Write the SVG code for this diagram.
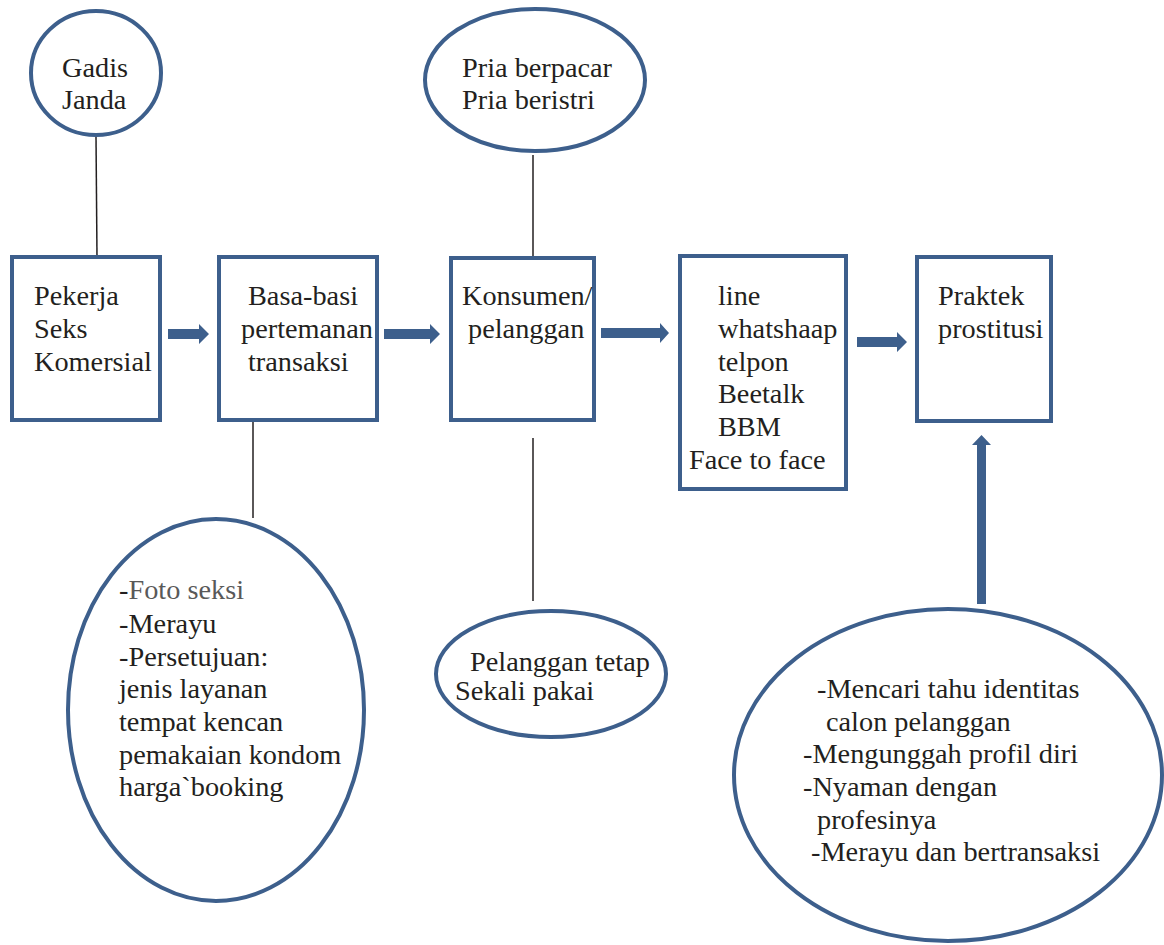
<svg xmlns="http://www.w3.org/2000/svg" width="1164" height="945" viewBox="0 0 1164 945">
<style>
.shape{fill:#fff;stroke:#3d5f8c;stroke-width:4}
.ln{stroke:#231f20;stroke-width:1.5;fill:none}
.arr{fill:#3d5f8c}
text{font-family:"Liberation Serif","Times New Roman",serif;font-size:28.3px;fill:#231f20}
.gray{fill:#595959}
</style>
<rect width="1164" height="945" fill="#fff"/>
<g id="connectors">
<line class="ln" x1="96" y1="136" x2="97" y2="257"/>
<line class="ln" x1="253" y1="421" x2="253" y2="518"/>
<line class="ln" x1="533" y1="155" x2="533" y2="257"/>
<line class="ln" x1="533" y1="438" x2="533" y2="601"/>
<polygon class="arr" points="168,329 199,329 199,324 209,334 199,344 199,339 168,339"/>
<polygon class="arr" points="384,329 430,329 430,324 440,334 430,344 430,339 384,339"/>
<polygon class="arr" points="601,328 660,328 660,323 669,333 660,343 660,338 601,338"/>
<polygon class="arr" points="857,337 897,337 897,332 907,342 897,352 897,347 857,347"/>
<polygon class="arr" points="977,604 977,445 972,445 981.5,435 991,445 986,445 986,604"/>
</g>
<g id="gadis">
<ellipse class="shape" cx="96" cy="73" rx="65" ry="62"/>
<text x="62" y="77">Gadis</text>
<text x="62" y="109">Janda</text>
</g>
<g id="psk">
<rect class="shape" x="12" y="257" width="148" height="163"/>
<text x="34" y="305">Pekerja</text>
<text x="34" y="338">Seks</text>
<text x="34" y="371">Komersial</text>
</g>
<g id="basabasi">
<rect class="shape" x="219" y="257" width="158" height="163"/>
<text x="248" y="305">Basa-basi</text>
<text x="241" y="338">pertemanan</text>
<text x="248" y="371">transaksi</text>
</g>
<g id="pria">
<ellipse class="shape" cx="535" cy="80" rx="110" ry="71"/>
<text x="462" y="77">Pria berpacar</text>
<text x="462" y="109">Pria beristri</text>
</g>
<g id="konsumen">
<rect class="shape" x="451" y="258" width="143" height="162"/>
<text x="462" y="305">Konsumen/</text>
<text x="468" y="338">pelanggan</text>
</g>
<g id="media">
<rect class="shape" x="680" y="256" width="166" height="233"/>
<text x="718" y="305">line</text>
<text x="718" y="338">whatshaap</text>
<text x="718" y="371">telpon</text>
<text x="718" y="403">Beetalk</text>
<text x="718" y="436">BBM</text>
<text x="689" y="469">Face to face</text>
</g>
<g id="praktek">
<rect class="shape" x="917" y="257" width="134" height="164"/>
<text x="938" y="305">Praktek</text>
<text x="938" y="338">prostitusi</text>
</g>
<g id="foto">
<ellipse class="shape" cx="216" cy="710" rx="148" ry="191"/>
<text x="119" y="599">-<tspan class="gray">Foto seksi</tspan></text>
<text x="119" y="633">-Merayu</text>
<text x="119" y="666">-Persetujuan:</text>
<text x="119" y="698">jenis layanan</text>
<text x="119" y="731">tempat kencan</text>
<text x="119" y="764">pemakaian kondom</text>
<text x="119" y="796">harga`booking</text>
</g>
<g id="pelanggan">
<ellipse class="shape" cx="551" cy="674" rx="115" ry="63"/>
<text x="470" y="671">Pelanggan tetap</text>
<text x="455" y="700">Sekali pakai</text>
</g>
<g id="mencari">
<ellipse class="shape" cx="948" cy="775" rx="214" ry="166"/>
<text x="817" y="698">-Mencari tahu identitas</text>
<text x="826" y="731">calon pelanggan</text>
<text x="803" y="763">-Mengunggah profil diri</text>
<text x="803" y="796">-Nyaman dengan</text>
<text x="817" y="829">profesinya</text>
<text x="811" y="861">-Merayu dan bertransaksi</text>
</g>
</svg>
